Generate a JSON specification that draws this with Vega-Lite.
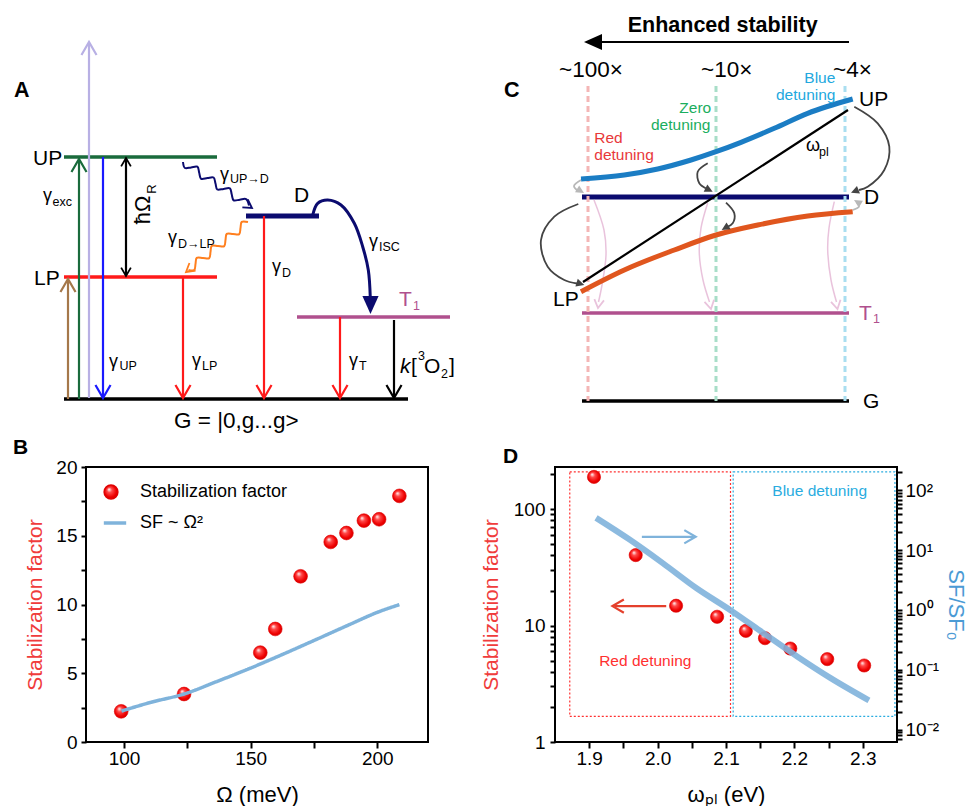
{
"$schema": "https://vega.github.io/schema/vega-lite/v6.json",
"padding": {"left": 12, "top": 0, "right": 0, "bottom": 0},
"spacing": 0,
"resolve": {"scale": {"color": "independent", "stroke": "independent", "strokeDash": "independent"}, "legend": {"color": "independent", "stroke": "independent", "strokeDash": "independent"}},
"config": {
  "font": "Liberation Sans",
  "view": {"stroke": null},
  "axis": {"labelFontSize": 19, "titleFontSize": 22, "titleFontWeight": "normal", "labelColor": "#000", "titleColor": "#000", "tickColor": "#000", "tickWidth": 2, "tickOpacity": 1, "domain": false, "grid": false, "ticks": true},
  "legend": {"labelFontSize": 18, "labelColor": "#000", "layout": {"direction": "vertical", "margin": 8, "top-left": {"direction": "vertical", "margin": 8}}},
  "title": {"fontSize": 21, "fontWeight": "bold", "color": "#000"}
},
"datasets": {
  "levels": [
    {"x": 63, "x2": 216, "y": 157, "c": "green"},
    {"x": 63, "x2": 216, "y": 277, "c": "red"},
    {"x": 63, "x2": 407, "y": 399, "c": "black"},
    {"x": 296, "x2": 449, "y": 317, "c": "purple"},
    {"x": 581, "x2": 848, "y": 313, "c": "purple"},
    {"x": 581, "x2": 848, "y": 401, "c": "black"}
  ],
  "dlevels": [
    {"x": 245, "x2": 318, "y": 216, "c": "navy"},
    {"x": 581, "x2": 848, "y": 197, "c": "navy"}
  ],
  "detune": [
    {"x": 587, "y": 86, "y2": 401, "c": "dred"},
    {"x": 715, "y": 86, "y2": 401, "c": "dgreen"},
    {"x": 844, "y": 86, "y2": 401, "c": "dblue"}
  ],
  "shafts": [
    {"x": 88, "y": 398, "x2": 88, "y2": 44, "c": "lavender"},
    {"x": 67, "y": 399, "x2": 67, "y2": 281, "c": "brown"},
    {"x": 78, "y": 399, "x2": 78, "y2": 161, "c": "green"},
    {"x": 102, "y": 157, "x2": 102, "y2": 396, "c": "blue"},
    {"x": 125, "y": 159, "x2": 125, "y2": 275, "c": "black"},
    {"x": 182, "y": 277, "x2": 182, "y2": 396, "c": "red"},
    {"x": 263, "y": 216, "x2": 263, "y2": 396, "c": "red"},
    {"x": 339, "y": 317, "x2": 339, "y2": 396, "c": "red"},
    {"x": 393, "y": 320, "x2": 393, "y2": 396, "c": "black"},
    {"x": 848, "y": 42, "x2": 592, "y2": 42, "c": "black"},
    {"x": 582, "y": 282, "x2": 847, "y2": 110, "c": "black"}
  ],
  "bands": [
    {"id": "up", "o": 0, "x": 580, "y": 179, "c": "upc"},
    {"id": "up", "o": 1, "x": 623.3, "y": 175, "c": "upc"},
    {"id": "up", "o": 2, "x": 656.7, "y": 169, "c": "upc"},
    {"id": "up", "o": 3, "x": 690, "y": 160, "c": "upc"},
    {"id": "up", "o": 4, "x": 715, "y": 151.7, "c": "upc"},
    {"id": "up", "o": 5, "x": 740, "y": 142.3, "c": "upc"},
    {"id": "up", "o": 6, "x": 773.3, "y": 128.3, "c": "upc"},
    {"id": "up", "o": 7, "x": 806.7, "y": 113.3, "c": "upc"},
    {"id": "up", "o": 8, "x": 851.7, "y": 99, "c": "upc"},
    {"id": "lp", "o": 0, "x": 580, "y": 291.7, "c": "lpc"},
    {"id": "lp", "o": 1, "x": 623.3, "y": 270, "c": "lpc"},
    {"id": "lp", "o": 2, "x": 673.3, "y": 250, "c": "lpc"},
    {"id": "lp", "o": 3, "x": 715, "y": 235, "c": "lpc"},
    {"id": "lp", "o": 4, "x": 756.7, "y": 225, "c": "lpc"},
    {"id": "lp", "o": 5, "x": 806.7, "y": 216, "c": "lpc"},
    {"id": "lp", "o": 6, "x": 851.7, "y": 211.7, "c": "lpc"}
  ],
  "arcs": [
    {"id": "g1", "o": 0, "x": 853.3, "y": 106.7, "c": "gray"},
    {"id": "g1", "o": 1, "x": 876.7, "y": 123.3, "c": "gray"},
    {"id": "g1", "o": 2, "x": 888.3, "y": 146.7, "c": "gray"},
    {"id": "g1", "o": 3, "x": 883.3, "y": 170, "c": "gray"},
    {"id": "g1", "o": 4, "x": 866.7, "y": 186.7, "c": "gray"},
    {"id": "g1", "o": 5, "x": 858, "y": 190, "c": "gray"},
    {"id": "g2", "o": 0, "x": 577.3, "y": 204, "c": "gray"},
    {"id": "g2", "o": 1, "x": 553.3, "y": 216.7, "c": "gray"},
    {"id": "g2", "o": 2, "x": 540, "y": 240, "c": "gray"},
    {"id": "g2", "o": 3, "x": 546.7, "y": 266.7, "c": "gray"},
    {"id": "g2", "o": 4, "x": 563.3, "y": 280, "c": "gray"},
    {"id": "g2", "o": 5, "x": 576, "y": 283.5, "c": "gray"},
    {"id": "g3", "o": 0, "x": 706.7, "y": 163.3, "c": "gray"},
    {"id": "g3", "o": 1, "x": 696.7, "y": 171.7, "c": "gray"},
    {"id": "g3", "o": 2, "x": 698.3, "y": 183.3, "c": "gray"},
    {"id": "g3", "o": 3, "x": 705, "y": 188.5, "c": "gray"},
    {"id": "g4", "o": 0, "x": 725, "y": 202.7, "c": "gray"},
    {"id": "g4", "o": 1, "x": 733.3, "y": 213.3, "c": "gray"},
    {"id": "g4", "o": 2, "x": 731.7, "y": 223.3, "c": "gray"},
    {"id": "g4", "o": 3, "x": 726, "y": 227, "c": "gray"},
    {"id": "l1", "o": 0, "x": 580, "y": 180, "c": "lgray"},
    {"id": "l1", "o": 1, "x": 573, "y": 186, "c": "lgray"},
    {"id": "l1", "o": 2, "x": 577, "y": 191, "c": "lgray"},
    {"id": "l2", "o": 0, "x": 851.7, "y": 210, "c": "lgray"},
    {"id": "l2", "o": 1, "x": 858, "y": 206.5, "c": "lgray"},
    {"id": "l2", "o": 2, "x": 856, "y": 203, "c": "lgray"}
  ],
  "pinkArcs": [
    {"id": "p1", "o": 0, "x": 593, "y": 200, "c": "pink"},
    {"id": "p1", "o": 1, "x": 603, "y": 230, "c": "pink"},
    {"id": "p1", "o": 2, "x": 605, "y": 255, "c": "pink"},
    {"id": "p1", "o": 3, "x": 601, "y": 285, "c": "pink"},
    {"id": "p1", "o": 4, "x": 597.5, "y": 302, "c": "pink"},
    {"id": "p2", "o": 0, "x": 706.7, "y": 203, "c": "pink"},
    {"id": "p2", "o": 1, "x": 700, "y": 228, "c": "pink"},
    {"id": "p2", "o": 2, "x": 698.3, "y": 253, "c": "pink"},
    {"id": "p2", "o": 3, "x": 702, "y": 280, "c": "pink"},
    {"id": "p2", "o": 4, "x": 708.5, "y": 302, "c": "pink"},
    {"id": "p3", "o": 0, "x": 833.3, "y": 201.7, "c": "pink"},
    {"id": "p3", "o": 1, "x": 828, "y": 228, "c": "pink"},
    {"id": "p3", "o": 2, "x": 826.7, "y": 250, "c": "pink"},
    {"id": "p3", "o": 3, "x": 830, "y": 280, "c": "pink"},
    {"id": "p3", "o": 4, "x": 835.5, "y": 302, "c": "pink"}
  ],
  "isc": [
    {"id": "isc", "o": 0, "x": 311.7, "y": 215, "c": "navy"},
    {"id": "isc", "o": 1, "x": 316.7, "y": 203.3, "c": "navy"},
    {"id": "isc", "o": 2, "x": 326.7, "y": 200, "c": "navy"},
    {"id": "isc", "o": 3, "x": 340, "y": 205, "c": "navy"},
    {"id": "isc", "o": 4, "x": 353.3, "y": 223.3, "c": "navy"},
    {"id": "isc", "o": 5, "x": 361.7, "y": 246.7, "c": "navy"},
    {"id": "isc", "o": 6, "x": 367.3, "y": 270, "c": "navy"},
    {"id": "isc", "o": 7, "x": 369.3, "y": 298, "c": "navy"}
  ],
  "waves": [
    {"id": "w1", "o": 0, "x": 182, "y": 162, "c": "navy"},
    {"id": "w1", "o": 1, "x": 183.9, "y": 168.0, "c": "navy"},
    {"id": "w1", "o": 2, "x": 190.1, "y": 167.4, "c": "navy"},
    {"id": "w1", "o": 3, "x": 196.4, "y": 166.7, "c": "navy"},
    {"id": "w1", "o": 4, "x": 198.2, "y": 172.8, "c": "navy"},
    {"id": "w1", "o": 5, "x": 200.1, "y": 178.8, "c": "navy"},
    {"id": "w1", "o": 6, "x": 206.4, "y": 178.1, "c": "navy"},
    {"id": "w1", "o": 7, "x": 212.6, "y": 177.5, "c": "navy"},
    {"id": "w1", "o": 8, "x": 214.5, "y": 183.5, "c": "navy"},
    {"id": "w1", "o": 9, "x": 216.3, "y": 189.5, "c": "navy"},
    {"id": "w1", "o": 10, "x": 222.6, "y": 188.9, "c": "navy"},
    {"id": "w1", "o": 11, "x": 228.9, "y": 188.3, "c": "navy"},
    {"id": "w1", "o": 12, "x": 230.7, "y": 194.3, "c": "navy"},
    {"id": "w1", "o": 13, "x": 232.6, "y": 200.3, "c": "navy"},
    {"id": "w1", "o": 14, "x": 238.8, "y": 199.7, "c": "navy"},
    {"id": "w1", "o": 15, "x": 245.1, "y": 199.1, "c": "navy"},
    {"id": "w1", "o": 16, "x": 248, "y": 205.5, "c": "navy"},
    {"id": "w2", "o": 0, "x": 247, "y": 222, "c": "orange"},
    {"id": "w2", "o": 1, "x": 240.75, "y": 221.9, "c": "orange"},
    {"id": "w2", "o": 2, "x": 239.5, "y": 228.0, "c": "orange"},
    {"id": "w2", "o": 3, "x": 238.25, "y": 234.1, "c": "orange"},
    {"id": "w2", "o": 4, "x": 232.0, "y": 234.0, "c": "orange"},
    {"id": "w2", "o": 5, "x": 225.75, "y": 233.9, "c": "orange"},
    {"id": "w2", "o": 6, "x": 224.5, "y": 240.0, "c": "orange"},
    {"id": "w2", "o": 7, "x": 223.25, "y": 246.1, "c": "orange"},
    {"id": "w2", "o": 8, "x": 217.0, "y": 246.0, "c": "orange"},
    {"id": "w2", "o": 9, "x": 210.75, "y": 245.9, "c": "orange"},
    {"id": "w2", "o": 10, "x": 209.5, "y": 252.0, "c": "orange"},
    {"id": "w2", "o": 11, "x": 208.25, "y": 258.1, "c": "orange"},
    {"id": "w2", "o": 12, "x": 202.0, "y": 258.0, "c": "orange"},
    {"id": "w2", "o": 13, "x": 195.75, "y": 257.9, "c": "orange"},
    {"id": "w2", "o": 14, "x": 194.5, "y": 264.0, "c": "orange"},
    {"id": "w2", "o": 15, "x": 193.25, "y": 270.1, "c": "orange"},
    {"id": "w2", "o": 16, "x": 187.5, "y": 270, "c": "orange"}
  ],
  "openHeads": [
    {"x": 88, "y": 42, "a": 180, "c": "lavender"},
    {"x": 67, "y": 279, "a": 180, "c": "brown"},
    {"x": 78, "y": 159, "a": 180, "c": "green"},
    {"x": 102, "y": 398, "a": 0, "c": "blue"},
    {"x": 182, "y": 398, "a": 0, "c": "red"},
    {"x": 263, "y": 398, "a": 0, "c": "red"},
    {"x": 339, "y": 398, "a": 0, "c": "red"},
    {"x": 393, "y": 398, "a": 0, "c": "black"}
  ],
  "openSmall": [
    {"x": 125, "y": 158, "a": 180, "c": "black"},
    {"x": 125, "y": 276, "a": 0, "c": "black"},
    {"x": 251, "y": 208, "a": -56, "c": "navy"},
    {"x": 185, "y": 272, "a": 51, "c": "orange"},
    {"x": 597, "y": 308, "a": 8, "c": "pink"},
    {"x": 710, "y": 309, "a": -12, "c": "pink"},
    {"x": 836.5, "y": 309, "a": -12, "c": "pink"}
  ],
  "solidHeads": [
    {"x": 369.5, "y": 314, "a": 0, "c": "navy"},
    {"x": 583, "y": 42, "a": 90, "c": "black"}
  ],
  "solidSmall": [
    {"x": 850, "y": 192.7, "a": 68, "c": "gray"},
    {"x": 583.3, "y": 285, "a": -73, "c": "gray"},
    {"x": 711.7, "y": 191.7, "a": -63, "c": "gray"},
    {"x": 720.7, "y": 230, "a": 59, "c": "gray"},
    {"x": 583, "y": 193, "a": -59, "c": "lgray"},
    {"x": 853, "y": 200, "a": 121, "c": "lgray"}
  ],
  "t21": [
    {"x": 32, "y": 165, "t": "UP", "c": "black"},
    {"x": 33, "y": 285, "t": "LP", "c": "black"},
    {"x": 293, "y": 202, "t": "D", "c": "black"},
    {"x": 858, "y": 106, "t": "UP", "c": "black"},
    {"x": 863, "y": 204, "t": "D", "c": "black"},
    {"x": 552, "y": 306, "t": "LP", "c": "black"},
    {"x": 862, "y": 408, "t": "G", "c": "black"},
    {"x": 398, "y": 306, "t": "T", "c": "purple"},
    {"x": 858, "y": 320, "t": "T", "c": "purple"},
    {"x": 410, "y": 373, "t": "[", "c": "black"},
    {"x": 423, "y": 373, "t": "O", "c": "black"},
    {"x": 448, "y": 373, "t": "]", "c": "black"}
  ],
  "t23": [
    {"x": 558, "y": 77, "t": "~100×", "c": "black"},
    {"x": 700, "y": 77, "t": "~10×", "c": "black"},
    {"x": 832, "y": 77, "t": "~4×", "c": "black"},
    {"x": 173, "y": 428, "t": "G = |0,g...g>", "c": "black"}
  ],
  "tBold": [
    {"x": 13, "y": 97, "t": "A", "c": "black"},
    {"x": 503, "y": 97, "t": "C", "c": "black"},
    {"x": 626.7, "y": 32, "t": "Enhanced stability", "c": "black"}
  ],
  "tGamma": [
    {"x": 42, "y": 201, "t": "γ", "c": "black"},
    {"x": 108, "y": 366.5, "t": "γ", "c": "black"},
    {"x": 191, "y": 366, "t": "γ", "c": "black"},
    {"x": 271, "y": 272, "t": "γ", "c": "black"},
    {"x": 348, "y": 366, "t": "γ", "c": "black"},
    {"x": 219, "y": 179.5, "t": "γ", "c": "black"},
    {"x": 167, "y": 243, "t": "γ", "c": "black"},
    {"x": 368, "y": 247, "t": "γ", "c": "black"},
    {"x": 805, "y": 151, "t": "ω", "c": "black"}
  ],
  "tSub": [
    {"x": 51.5, "y": 206, "t": "exc", "c": "black"},
    {"x": 118.5, "y": 370, "t": "UP", "c": "black"},
    {"x": 201, "y": 370, "t": "LP", "c": "black"},
    {"x": 281, "y": 276.5, "t": "D", "c": "black"},
    {"x": 358, "y": 370, "t": "T", "c": "black"},
    {"x": 229, "y": 183, "t": "UP→D", "c": "black"},
    {"x": 177, "y": 248, "t": "D→LP", "c": "black"},
    {"x": 378, "y": 251, "t": "ISC", "c": "black"},
    {"x": 412, "y": 310, "t": "1", "c": "purple"},
    {"x": 872, "y": 323, "t": "1", "c": "purple"},
    {"x": 818, "y": 156, "t": "pl", "c": "black"},
    {"x": 417, "y": 360, "t": "3", "c": "black"},
    {"x": 440, "y": 378, "t": "2", "c": "black"}
  ],
  "tDet": [
    {"x": 803.3, "y": 83, "t": "Blue", "c": "tblue"},
    {"x": 775, "y": 100, "t": "detuning", "c": "tblue"},
    {"x": 678.3, "y": 113, "t": "Zero", "c": "tgreen"},
    {"x": 650, "y": 130, "t": "detuning", "c": "tgreen"},
    {"x": 593.3, "y": 143, "t": "Red", "c": "tred"},
    {"x": 593.3, "y": 160, "t": "detuning", "c": "tred"}
  ],
  "tItal": [
    {"x": 399, "y": 373, "t": "k", "c": "black"}
  ],
  "tRot": [
    {"x": 142, "y": 210, "t": "ħΩ", "c": "black"}
  ],
  "tRotSub": [
    {"x": 151, "y": 189, "t": "R", "c": "black"}
  ],
  "bPts": [
    {"x": 98.9, "y": 2.23, "s": "Stabilization factor"},
    {"x": 123.7, "y": 3.49, "s": "Stabilization factor"},
    {"x": 153.8, "y": 6.5, "s": "Stabilization factor"},
    {"x": 159.7, "y": 8.22, "s": "Stabilization factor"},
    {"x": 169.7, "y": 12.05, "s": "Stabilization factor"},
    {"x": 181.6, "y": 14.55, "s": "Stabilization factor"},
    {"x": 187.8, "y": 15.2, "s": "Stabilization factor"},
    {"x": 194.7, "y": 16.1, "s": "Stabilization factor"},
    {"x": 200.7, "y": 16.2, "s": "Stabilization factor"},
    {"x": 208.7, "y": 17.9, "s": "Stabilization factor"}
  ],
  "bFit": [
    {"x": 99, "y": 2.25, "s": "SF ~ Ω²"},
    {"x": 110.5, "y": 2.88, "s": "SF ~ Ω²"},
    {"x": 123.7, "y": 3.49, "s": "SF ~ Ω²"},
    {"x": 136.8, "y": 4.41, "s": "SF ~ Ω²"},
    {"x": 150, "y": 5.38, "s": "SF ~ Ω²"},
    {"x": 163.2, "y": 6.42, "s": "SF ~ Ω²"},
    {"x": 176.3, "y": 7.49, "s": "SF ~ Ω²"},
    {"x": 189.5, "y": 8.58, "s": "SF ~ Ω²"},
    {"x": 200, "y": 9.43, "s": "SF ~ Ω²"},
    {"x": 208.7, "y": 9.99, "s": "SF ~ Ω²"}
  ],
  "dPts": [
    {"x": 1.907, "y": 189}, {"x": 1.968, "y": 40.3}, {"x": 2.027, "y": 14.8},
    {"x": 2.087, "y": 11.9}, {"x": 2.129, "y": 9.0}, {"x": 2.157, "y": 7.79},
    {"x": 2.194, "y": 6.35}, {"x": 2.248, "y": 5.15}, {"x": 2.302, "y": 4.54}
  ],
  "dRects": [
    {"x": 1.8716, "x2": 2.1066, "y": 1.66, "y2": 209, "c": "red"},
    {"x": 2.1105, "x2": 2.347, "y": 1.66, "y2": 209, "c": "blue"}
  ],
  "dTexts": [
    {"x": 2.237, "y": 142.6, "t": "Blue detuning", "c": "blue"},
    {"x": 1.982, "y": 4.98, "t": "Red detuning", "c": "red"}
  ],
  "dRedArrow": [{"x": 2.0126, "x2": 1.937, "y": 14.7}],
  "dRedHead": [{"x": 1.934, "y": 14.7}],
  "dCurve": [
    {"x": 1.91, "v": 34.6}, {"x": 1.959, "v": 15.0}, {"x": 2.008, "v": 6.0},
    {"x": 2.057, "v": 2.3}, {"x": 2.106, "v": 1.0}, {"x": 2.155, "v": 0.408},
    {"x": 2.204, "v": 0.167}, {"x": 2.253, "v": 0.0726}, {"x": 2.309, "v": 0.0308}
  ],
  "dBlueArrow": [{"x": 1.977, "x2": 2.053, "v": 16.7}],
  "dBlueHead": [{"x": 2.0557, "v": 16.7}]
},
"vconcat": [
  {
    "width": 884, "height": 436,
    "encoding": {
      "x": {"field": "x", "type": "quantitative", "scale": {"domain": [85, 969], "nice": false, "zero": false}, "axis": null},
      "y": {"field": "y", "type": "quantitative", "scale": {"domain": [0, 436], "nice": false, "zero": false, "reverse": true}, "axis": null},
      "color": {"field": "c", "type": "nominal", "legend": null, "scale": {
        "domain": ["green","red","blue","navy","orange","purple","brown","lavender","black","upc","lpc","dred","dgreen","dblue","tred","tgreen","tblue","gray","lgray","pink"],
        "range": ["#1a6b3c","#ff1a1a","#1a1aff","#0b0b6f","#ff7f1e","#b0508e","#a5784a","#b8b0e4","#000000","#1b7dc4","#e0561e","#f4b6b6","#a8dec8","#a9def0","#e8383a","#1aae5e","#22a8de","#444444","#b8b8b8","#e9c3dc"]}}
    },
    "layer": [
      {"data": {"name": "levels"}, "mark": {"type": "rule", "strokeWidth": 3.5}, "encoding": {"x2": {"field": "x2"}}},
      {"data": {"name": "dlevels"}, "mark": {"type": "rule", "strokeWidth": 5}, "encoding": {"x2": {"field": "x2"}}},
      {"data": {"name": "detune"}, "mark": {"type": "rule", "strokeWidth": 3, "strokeDash": [6, 4]}, "encoding": {"y2": {"field": "y2"}}},
      {"data": {"name": "pinkArcs"}, "mark": {"type": "line", "strokeWidth": 1.5, "interpolate": "catmull-rom"}, "encoding": {"detail": {"field": "id"}, "order": {"field": "o", "type": "quantitative"}}},
      {"data": {"name": "shafts"}, "mark": {"type": "rule", "strokeWidth": 2.2}, "encoding": {"x2": {"field": "x2"}, "y2": {"field": "y2"}}},
      {"data": {"name": "bands"}, "mark": {"type": "line", "strokeWidth": 5, "interpolate": "monotone"}, "encoding": {"detail": {"field": "id"}, "order": {"field": "o", "type": "quantitative"}}},
      {"data": {"name": "arcs"}, "mark": {"type": "line", "strokeWidth": 1.8, "interpolate": "catmull-rom"}, "encoding": {"detail": {"field": "id"}, "order": {"field": "o", "type": "quantitative"}}},
      {"data": {"name": "isc"}, "mark": {"type": "line", "strokeWidth": 3, "interpolate": "catmull-rom"}, "encoding": {"detail": {"field": "id"}, "order": {"field": "o", "type": "quantitative"}}},
      {"data": {"name": "waves"}, "mark": {"type": "line", "strokeWidth": 2, "interpolate": "catmull-rom"}, "encoding": {"detail": {"field": "id"}, "order": {"field": "o", "type": "quantitative"}}},
      {"data": {"name": "openHeads"}, "mark": {"type": "point", "shape": "M-0.58,-1L0,0L0.58,-1", "filled": false, "size": 676, "strokeWidth": 2.2, "opacity": 1}, "encoding": {"angle": {"field": "a", "type": "quantitative", "scale": null}}},
      {"data": {"name": "openSmall"}, "mark": {"type": "point", "shape": "M-0.58,-1L0,0L0.58,-1", "filled": false, "size": 280, "strokeWidth": 1.8, "opacity": 1}, "encoding": {"angle": {"field": "a", "type": "quantitative", "scale": null}}},
      {"data": {"name": "solidHeads"}, "mark": {"type": "point", "shape": "M-0.45,-1L0,0L0.45,-1Z", "filled": true, "size": 1296, "opacity": 1}, "encoding": {"angle": {"field": "a", "type": "quantitative", "scale": null}}},
      {"data": {"name": "solidSmall"}, "mark": {"type": "point", "shape": "M-0.5,-1L0,0L0.5,-1Z", "filled": true, "size": 260, "opacity": 1}, "encoding": {"angle": {"field": "a", "type": "quantitative", "scale": null}}},
      {"data": {"name": "t21"}, "mark": {"type": "text", "fontSize": 21, "align": "left", "baseline": "alphabetic"}, "encoding": {"text": {"field": "t"}}},
      {"data": {"name": "t23"}, "mark": {"type": "text", "fontSize": 22.5, "align": "left", "baseline": "alphabetic"}, "encoding": {"text": {"field": "t"}}},
      {"data": {"name": "tBold"}, "mark": {"type": "text", "fontSize": 21.5, "fontWeight": "bold", "align": "left", "baseline": "alphabetic"}, "encoding": {"text": {"field": "t"}}},
      {"data": {"name": "tGamma"}, "mark": {"type": "text", "fontSize": 18, "align": "left", "baseline": "alphabetic"}, "encoding": {"text": {"field": "t"}}},
      {"data": {"name": "tSub"}, "mark": {"type": "text", "fontSize": 12.5, "align": "left", "baseline": "alphabetic"}, "encoding": {"text": {"field": "t"}}},
      {"data": {"name": "tDet"}, "mark": {"type": "text", "fontSize": 15.5, "align": "left", "baseline": "alphabetic"}, "encoding": {"text": {"field": "t"}}},
      {"data": {"name": "tItal"}, "mark": {"type": "text", "fontSize": 21, "fontStyle": "italic", "align": "left", "baseline": "alphabetic"}, "encoding": {"text": {"field": "t"}}},
      {"data": {"name": "tRot"}, "mark": {"type": "text", "fontSize": 22, "angle": 270, "align": "center", "baseline": "middle"}, "encoding": {"text": {"field": "t"}}},
      {"data": {"name": "tRotSub"}, "mark": {"type": "text", "fontSize": 13, "angle": 270, "align": "center", "baseline": "middle"}, "encoding": {"text": {"field": "t"}}}
    ]
  },
  {
    "spacing": 50,
    "resolve": {"scale": {"color": "independent", "stroke": "independent", "strokeDash": "independent"}, "legend": {"color": "independent", "stroke": "independent", "strokeDash": "independent"}},
    "hconcat": [
      {
        "width": 342, "height": 275,
        "view": {"stroke": "#000", "strokeWidth": 2},
        "title": {"text": "B", "anchor": "start", "frame": "group", "dx": -73, "offset": 0},
        "encoding": {
          "x": {"field": "x", "type": "quantitative", "scale": {"domain": [85, 220], "nice": false, "zero": false},
            "axis": {"values": [100, 125, 150, 175, 200], "labelExpr": "datum.value % 50 === 0 ? format(datum.value, 'd') : ''",
              "tickSize": 6, "labelPadding": 1, "title": "Ω (meV)", "titlePadding": 16}},
          "y": {"field": "y", "type": "quantitative", "scale": {"domain": [0, 20], "nice": false},
            "axis": {"values": [0, 2.5, 5, 7.5, 10, 12.5, 15, 17.5, 20], "labelExpr": "datum.value % 5 === 0 ? format(datum.value, 'd') : ''",
              "tickSize": 5, "labelPadding": 4, "title": "Stabilization factor", "titleColor": "#f03c3c", "titleFontSize": 21, "titlePadding": 10}}
        },
        "layer": [
          {"data": {"name": "bPts"},
           "mark": {"type": "point", "filled": true, "size": 190, "opacity": 1, "strokeWidth": 0.6,
             "fill": {"gradient": "radial", "x1": 0.35, "y1": 0.3, "r1": 0, "x2": 0.5, "y2": 0.5, "r2": 0.6,
               "stops": [{"offset": 0, "color": "#ffffff"}, {"offset": 0.3, "color": "#ff4a4a"}, {"offset": 0.7, "color": "#ee0000"}, {"offset": 1, "color": "#c80000"}]}},
           "encoding": {"stroke": {"field": "s", "type": "nominal", "scale": {"range": ["#e00000"]},
             "legend": {"orient": "top-left", "title": null, "offset": 16, "padding": 0, "labelOffset": 20, "symbolSize": 190, "symbolType": "circle", "symbolFillColor": "#ee1111", "symbolStrokeColor": "#e00000", "symbolOpacity": 1}}}},
          {"data": {"name": "bFit"},
           "mark": {"type": "line", "strokeWidth": 3.5, "color": "#7fb3db", "interpolate": "monotone"},
           "encoding": {"strokeDash": {"field": "s", "type": "nominal", "scale": {"range": [[1, 0]]},
             "legend": {"orient": "top-left", "title": null, "offset": 16, "padding": 0, "labelOffset": 12, "symbolType": "stroke", "symbolSize": 500, "symbolStrokeWidth": 3.5, "symbolStrokeColor": "#7fb3db", "symbolOpacity": 1}}}}
        ]
      },
      {
        "width": 342, "height": 275,
        "view": {"stroke": "#000", "strokeWidth": 2},
        "title": {"text": "D", "anchor": "start", "frame": "group", "dx": -52, "offset": 0},
        "encoding": {
          "x": {"field": "x", "type": "quantitative", "scale": {"domain": [1.85, 2.35], "nice": false, "zero": false},
            "axis": {"values": [1.9, 1.95, 2.0, 2.05, 2.1, 2.15, 2.2, 2.25, 2.3],
              "labelExpr": "round(datum.value * 100) % 10 === 0 ? format(datum.value, '.1f') : ''",
              "tickSize": 6, "labelPadding": 1, "title": "ωₚₗ (eV)", "titlePadding": 16}}
        },
        "layer": [
          {
            "encoding": {"y": {"field": "y", "type": "quantitative", "scale": {"type": "log", "domain": [1, 230], "nice": false},
              "axis": {"orient": "left", "values": [1, 2, 3, 4, 5, 6, 7, 8, 9, 10, 20, 30, 40, 50, 60, 70, 80, 90, 100, 200],
                "labelExpr": "datum.value === 1 ? '1' : datum.value === 10 ? '10' : datum.value === 100 ? '100' : ''",
                "tickSize": 5, "labelPadding": 5, "title": "Stabilization factor", "titleColor": "#f03c3c", "titleFontSize": 21, "titlePadding": 12}}},
            "layer": [
              {"data": {"name": "dRects"}, "mark": {"type": "rect", "filled": false, "strokeDash": [2, 2], "strokeWidth": 1.2},
               "encoding": {"x2": {"field": "x2"}, "y2": {"field": "y2"},
                 "color": {"field": "c", "type": "nominal", "scale": {"domain": ["red", "blue"], "range": ["#ff3030", "#2aace0"]}, "legend": null}}},
              {"data": {"name": "dTexts"}, "mark": {"type": "text", "fontSize": 15.5, "align": "center", "baseline": "middle"},
               "encoding": {"text": {"field": "t"},
                 "color": {"field": "c", "type": "nominal", "scale": {"domain": ["red", "blue"], "range": ["#ff3030", "#2aace0"]}, "legend": null}}},
              {"data": {"name": "dRedArrow"}, "mark": {"type": "rule", "color": "#e4402c", "strokeWidth": 2.2}, "encoding": {"x2": {"field": "x2"}}},
              {"data": {"name": "dRedHead"}, "mark": {"type": "point", "shape": "M-0.58,-1L0,0L0.58,-1", "filled": false, "size": 520, "strokeWidth": 2.2, "color": "#e4402c", "opacity": 1, "angle": 90}},
              {"data": {"name": "dPts"},
               "mark": {"type": "point", "filled": true, "size": 175, "opacity": 1, "stroke": "#e00000", "strokeWidth": 0.6,
                 "fill": {"gradient": "radial", "x1": 0.35, "y1": 0.3, "r1": 0, "x2": 0.5, "y2": 0.5, "r2": 0.6,
                   "stops": [{"offset": 0, "color": "#ffffff"}, {"offset": 0.3, "color": "#ff4a4a"}, {"offset": 0.7, "color": "#ee0000"}, {"offset": 1, "color": "#c80000"}]}}}
            ]
          },
          {
            "encoding": {"y": {"field": "v", "type": "quantitative", "scale": {"type": "log", "domain": [0.0062, 245], "nice": false},
              "axis": {"orient": "right",
                "values": [0.007, 0.008, 0.009, 0.01, 0.02, 0.03, 0.04, 0.05, 0.06, 0.07, 0.08, 0.09, 0.1, 0.2, 0.3, 0.4, 0.5, 0.6, 0.7, 0.8, 0.9, 1, 2, 3, 4, 5, 6, 7, 8, 9, 10, 20, 30, 40, 50, 60, 70, 80, 90, 100, 200],
                "labelExpr": "datum.value === 100 ? '10²' : datum.value === 10 ? '10¹' : datum.value === 1 ? '10⁰' : datum.value === 0.1 ? '10⁻¹' : datum.value === 0.01 ? '10⁻²' : ''",
                "tickSize": 5, "labelPadding": 3, "title": "SF/SF₀", "titleColor": "#4b9bd5", "titlePadding": 5}}},
            "layer": [
              {"data": {"name": "dCurve"}, "mark": {"type": "line", "color": "#7fb3db", "strokeWidth": 6, "opacity": 0.9, "interpolate": "monotone"}},
              {"data": {"name": "dBlueArrow"}, "mark": {"type": "rule", "color": "#7fb3db", "strokeWidth": 2.2}, "encoding": {"x2": {"field": "x2"}}},
              {"data": {"name": "dBlueHead"}, "mark": {"type": "point", "shape": "M-0.58,-1L0,0L0.58,-1", "filled": false, "size": 520, "strokeWidth": 2.2, "color": "#7fb3db", "opacity": 1, "angle": 270}}
            ]
          }
        ],
        "resolve": {"scale": {"y": "independent"}}
      }
    ]
  }
]
}
